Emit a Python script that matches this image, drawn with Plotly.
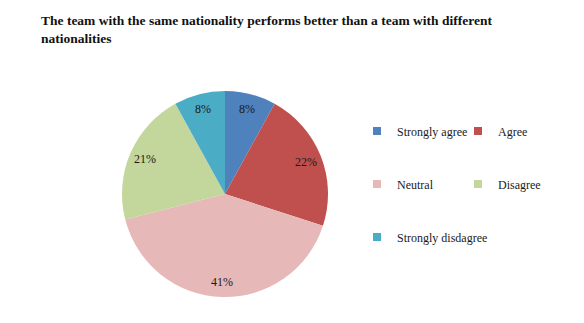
import math
import plotly.graph_objects as go

categories = ["Strongly agree", "Agree", "Neutral", "Disagree", "Strongly disdagree"]
values = [8, 22, 41, 21, 8]
colors = ["#4F81BD", "#C0504D", "#E6B9B8", "#C3D69B", "#4BACC6"]
title_text = ("The team with the same nationality performs better than a team with different"
              "<br>nationalities")

W, H = 584, 323
FONT = "Liberation Serif, Times New Roman, serif"

# pie domain in pixels (left, top, right, bottom)
PX0, PY0, PX1, PY1 = 122, 89, 328, 299

fig = go.Figure()
fig.add_trace(go.Pie(
    labels=categories, values=values, sort=False, direction="clockwise", rotation=0,
    marker=dict(colors=colors, line=dict(width=0)),
    textinfo="none",
    showlegend=False, hoverinfo="label+percent",
    domain=dict(x=[PX0 / W, PX1 / W], y=[1 - PY1 / H, 1 - PY0 / H]),
))

# percentage labels placed near the rim of each slice, derived from the values
cx, cy = (PX0 + PX1) / 2, (PY0 + PY1) / 2
R = min(PX1 - PX0, PY1 - PY0) / 2
total = sum(values)
cum = 0
for v in values:
    mid = (cum + v / 2) / total
    cum += v
    ang = 2 * math.pi * mid
    rf = 0.85
    px = cx + rf * R * math.sin(ang)
    py = cy - rf * R * math.cos(ang)
    fig.add_annotation(
        x=px / W, y=1 - py / H, xref="paper", yref="paper", showarrow=False,
        xanchor="center", yanchor="middle",
        text=f"{round(100 * v / total)}%",
        font=dict(family=FONT, size=12, color="#1a1a1a"),
    )

# legend entries (one legend per entry to match the grid layout)
legend_pos = [(357, 131), (458, 131), (357, 184), (458, 184), (357, 237)]
legend_names = ["legend", "legend2", "legend3", "legend4", "legend5"]
layout_legends = {}
for name, cat, col, (lx, ly) in zip(legend_names, categories, colors, legend_pos):
    fig.add_trace(go.Scatter(
        x=[None], y=[None], mode="markers", name=cat, legend=name,
        marker=dict(symbol="square", size=8, color=col, line=dict(width=0)),
        hoverinfo="skip",
    ))
    layout_legends[name] = dict(
        x=lx / W, y=1 - ly / H, xanchor="left", yanchor="middle",
        font=dict(family=FONT, size=12, color="#1a1a1a"),
        bgcolor="rgba(0,0,0,0)", borderwidth=0,
    )

fig.update_layout(
    width=W, height=H,
    margin=dict(l=0, r=0, t=0, b=0),
    paper_bgcolor="white", plot_bgcolor="white",
    title=dict(text="<b>" + title_text + "</b>", x=41 / W, xanchor="left", xref="paper",
               y=1 - 25 / H, yref="container", yanchor="top",
               font=dict(family=FONT, size=13.5, color="#111111")),
    xaxis=dict(visible=False), yaxis=dict(visible=False),
    **layout_legends,
)

fig.write_html("out.html")
